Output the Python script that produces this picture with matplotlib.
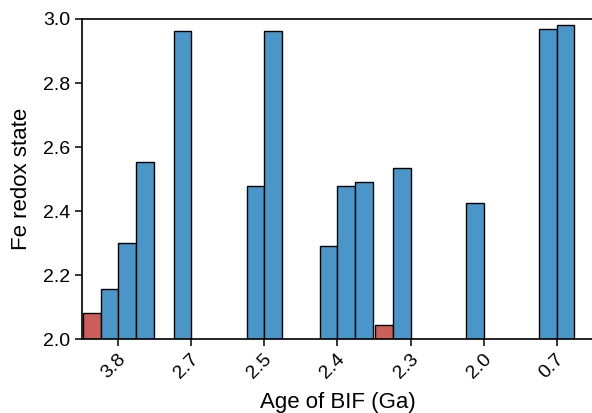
import numpy as np
import matplotlib
matplotlib.use('Agg')
import matplotlib.pyplot as plt
import matplotlib.transforms as mtransforms

plt.rcParams['font.family'] = ['Liberation Sans', 'DejaVu Sans']

# ages of the BIF samples (categories on the x axis)
ages = ['3.8', '2.7', '2.5', '2.4', '2.3', '2.0', '0.7']

# Fe redox state, one list per sample slot inside each age group (nan = no bar)
nan = np.nan
slot0 = [2.084, nan, nan, nan, 2.045, nan, nan]
slot1 = [2.158, 2.963, 2.480, 2.293, 2.536, 2.425, 2.968]
slot2 = [2.302, nan, 2.963, 2.478, nan, nan, 2.982]
slot3 = [2.555, nan, nan, 2.490, nan, nan, nan]
slots = [slot0, slot1, slot2, slot3]

slot_colors = ['#CD5F5A', '#4B96C8', '#4B96C8', '#4B96C8']

fig = plt.figure(figsize=(5.92, 4.13), dpi=100)
ax = fig.add_axes([0.138, 0.178, 0.864, 0.776])

x = np.arange(len(ages))
bw = 0.97 / len(slots)
for i, vals in enumerate(slots):
    vals = np.array(vals)
    ok = ~np.isnan(vals)
    ax.bar(x[ok] + (i - 1.5) * bw, vals[ok], width=bw,
           color=slot_colors[i], edgecolor='black', linewidth=1.0)

ax.set_xlim(-0.5, len(ages) - 0.5)
ax.set_ylim(2.0, 3.0)
ax.set_yticks(np.arange(2.0, 3.01, 0.2))
ax.set_yticklabels(['%.1f' % v for v in np.arange(2.0, 3.01, 0.2)])
ax.set_xticks(x)
ax.set_xticklabels(ages)

ax.tick_params(axis='both', labelsize=14, length=5, width=1.1, direction='out')
ax.tick_params(axis='x', pad=8)

# shift rotated labels a little to the right
shift = mtransforms.ScaledTranslation(0.05, 0.01, fig.dpi_scale_trans)
for lab in ax.get_xticklabels():
    lab.set_rotation(45)
    lab.set_ha('right')
    lab.set_va('center')
    lab.set_rotation_mode('anchor')
    lab.set_transform(lab.get_transform() + shift)

for s in ax.spines.values():
    s.set_linewidth(1.2)

ax.set_xlabel('Age of BIF (Ga)', fontsize=16, labelpad=7)
ax.set_ylabel('Fe redox state', fontsize=16, labelpad=8)

fig.savefig('out.png', dpi=100)
